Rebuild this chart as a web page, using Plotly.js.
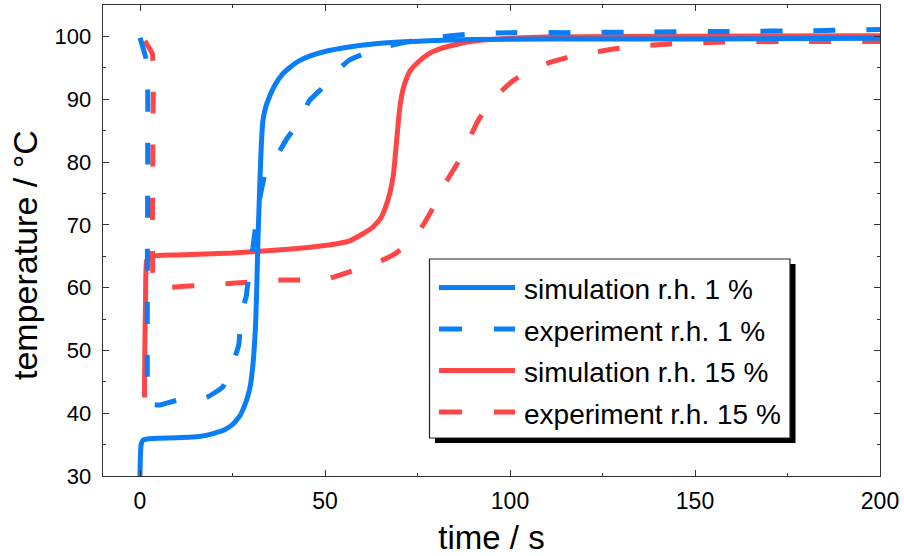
<!DOCTYPE html>
<html>
<head>
<meta charset="utf-8">
<script src="https://cdn.plot.ly/plotly-3.0.1.min.js"></script>
<style>
  html, body { margin: 0; padding: 0; background: #fff; }
  #chart { width: 904px; height: 556px; }
</style>
</head>
<body>
<div id="chart"></div>
<script>
// Simulation, relative humidity 1 %
const simTime1 = [0, 0.1, 0.3, 0.8, 2, 5, 10, 16, 20, 23, 25, 27, 28.7, 29.7, 30.4, 31.0, 31.3, 31.6, 31.9, 32.3, 32.7, 33.2, 34, 35, 36.5, 38.5, 41, 43, 46, 50, 56.5, 63, 70, 78, 90, 110, 150, 200];
const simTemp1 = [30, 33, 35, 35.7, 35.9, 36.0, 36.1, 36.3, 36.8, 37.4, 38.2, 39.6, 41.9, 44, 47, 51.5, 55, 61, 68, 75, 81.5, 86.5, 88.8, 90.4, 92.3, 94, 95.3, 96.1, 96.9, 97.6, 98.3, 98.8, 99.1, 99.3, 99.5, 99.6, 99.6, 99.7];

// Experiment, relative humidity 1 %
const expTime1 = [0, 1.5, 2.0, 2.0, 2.4, 3.5, 5.4, 10.3, 17.9, 22.4, 25, 26.7, 27.3, 28.7, 29.6, 30.5, 32, 33.9, 36.7, 39.9, 43, 45.7, 49.3, 53.3, 56.5, 60, 63.6, 66.7, 72, 78, 84, 90, 100, 115, 135, 160, 180, 200];
const expTemp1 = [99.8, 96.8, 95, 45, 42.3, 41.4, 41.3, 42.1, 42.5, 44.2, 47.8, 50.9, 55.7, 58.6, 62.9, 66.3, 73, 78.3, 80.7, 83.9, 86.3, 89.7, 91.8, 94.5, 96.2, 97.1, 97.8, 98.4, 99.1, 99.7, 100.1, 100.4, 100.6, 100.6, 100.7, 100.8, 100.9, 101.1];

// Simulation, relative humidity 15 %
const simTime15 = [1.2, 1.3, 1.5, 1.8, 3, 10, 25, 40, 50, 56.5, 60, 62.7, 65, 66.3, 67.5, 68.5, 69.3, 70, 70.7, 71.5, 73, 75, 78, 81, 86, 91, 100, 110, 130, 200];
const simTemp15 = [42.5, 50, 58, 64.3, 65, 65.2, 65.5, 66.1, 66.7, 67.4, 68.5, 69.5, 71, 72.7, 75, 78, 83, 87.5, 90.5, 92.4, 94.5, 95.8, 97.2, 98, 98.8, 99.3, 99.7, 99.9, 100, 100.1];

// Experiment, relative humidity 15 %
const expTime15 = [1.3, 3.3, 3.6, 3.6, 4.5, 7, 12, 25, 38, 50, 56, 61, 66, 69, 72, 76, 79, 82.4, 86, 88, 91.4, 94, 97.7, 101, 105, 111, 117, 124, 130, 143, 158, 175, 200];
const expTemp15 = [99.3, 97.3, 95, 61, 60.1, 60, 60.2, 60.7, 61.2, 61.3, 62.4, 63.4, 64.5, 65.4, 66.8, 69.5, 72.5, 76.5, 80, 82.5, 86.6, 89, 91.3, 93, 94.5, 95.9, 96.9, 97.6, 98.2, 98.8, 99.1, 99.2, 99.2];

const seriesNames = ['simulation r.h. 1 %', 'experiment r.h. 1 %', 'simulation r.h. 15 %', 'experiment r.h. 15 %'];
const xTicks = [0, 50, 100, 150, 200];
const xMinorTicks = [25, 75, 125, 175];
const yTicks = [30, 40, 50, 60, 70, 80, 90, 100];
const yMinorTicks = [35, 45, 55, 65, 75, 85, 95];

const BLUE = '#0a7ef5';
const RED = '#ff4545';
const DASH = '22px,31px';
const FONT = 'Arial, "Liberation Sans", sans-serif';
const FRAME = '#333333';

// page geometry, used to place the hand-drawn legend box in paper coordinates
const W = 904, H = 556;
const M = { l: 103, r: 24, t: 5, b: 80 };
const pw = W - M.l - M.r, ph = H - M.t - M.b;
const pxX = x => (x - M.l) / pw;
const pxY = y => (H - M.b - y) / ph;

const line = (x, y, color, dash) => ({
  x, y, type: 'scatter', mode: 'lines', showlegend: false, hoverinfo: 'skip',
  line: { color, width: 5, dash: dash || 'solid', shape: 'spline', smoothing: 0.4 }
});

// red series first so the blue curves sit on top where they overlap
const traces = [
  line(simTime15, simTemp15, RED),
  line(expTime15, expTemp15, RED, DASH),
  line(simTime1, simTemp1, BLUE),
  line(expTime1, expTemp1, BLUE, DASH)
];

// legend: framed box with a drop shadow, line samples and labels
const legendColors = [BLUE, BLUE, RED, RED];
const legendDash = ['solid', '23px,32px', 'solid', '23px,32px'];
const rowY = [287.5, 329, 370.5, 412];
const shapes = [
  { type: 'rect', xref: 'paper', yref: 'paper', x0: pxX(435), x1: pxX(795.5), y0: pxY(443), y1: pxY(264),
    fillcolor: '#000', line: { width: 0 } },
  { type: 'rect', xref: 'paper', yref: 'paper', x0: pxX(429.5), x1: pxX(790), y0: pxY(438), y1: pxY(259),
    fillcolor: '#fff', line: { color: '#222', width: 1.2 } }
];
const annotations = [];
seriesNames.forEach((name, i) => {
  shapes.push({ type: 'line', xref: 'paper', yref: 'paper', x0: pxX(439), x1: pxX(515),
    y0: pxY(rowY[i]), y1: pxY(rowY[i]), line: { color: legendColors[i], width: 5, dash: legendDash[i] } });
  annotations.push({ xref: 'paper', yref: 'paper', x: pxX(522), y: pxY(rowY[i] + 2),
    xanchor: 'left', yanchor: 'middle', showarrow: false, text: name,
    font: { family: FONT, size: 28, color: '#000' } });
});

// y-axis title
annotations.push({ xref: 'paper', yref: 'paper', x: pxX(25), y: pxY(255), xanchor: 'center', yanchor: 'middle',
  textangle: -90, showarrow: false, text: 'temperature / °C', font: { family: FONT, size: 34, color: '#000' } });

const axisCommon = {
  showgrid: false, zeroline: false, showline: true, linecolor: FRAME, linewidth: 1.3,
  mirror: 'ticks', ticks: 'inside', ticklen: 6, tickwidth: 1, tickcolor: FRAME
};

const layout = {
  width: W, height: H,
  margin: M,
  paper_bgcolor: '#fff', plot_bgcolor: '#fff',
  showlegend: false,
  xaxis: Object.assign({}, axisCommon, {
    range: [-10, 200], tickmode: 'array', tickvals: xTicks, ticktext: xTicks.map(String),
    tickfont: { family: FONT, size: 23, color: '#000' }, ticklabelstandoff: 4,
    minor: { tickmode: 'array', tickvals: xMinorTicks, ticks: 'inside', ticklen: 3, tickcolor: FRAME },
    title: { text: 'time / s', font: { family: FONT, size: 33, color: '#000' }, standoff: 14 }
  }),
  yaxis: Object.assign({}, axisCommon, {
    range: [30, 105], tickmode: 'array', tickvals: yTicks, ticktext: yTicks.map(String),
    tickfont: { family: FONT, size: 22, color: '#000' }, ticklabelstandoff: 6,
    minor: { tickmode: 'array', tickvals: yMinorTicks, ticks: 'inside', ticklen: 3, tickcolor: FRAME }
  }),
  shapes, annotations
};

Plotly.newPlot('chart', traces, layout, { displayModeBar: false, staticPlot: true });
</script>
</body>
</html>
